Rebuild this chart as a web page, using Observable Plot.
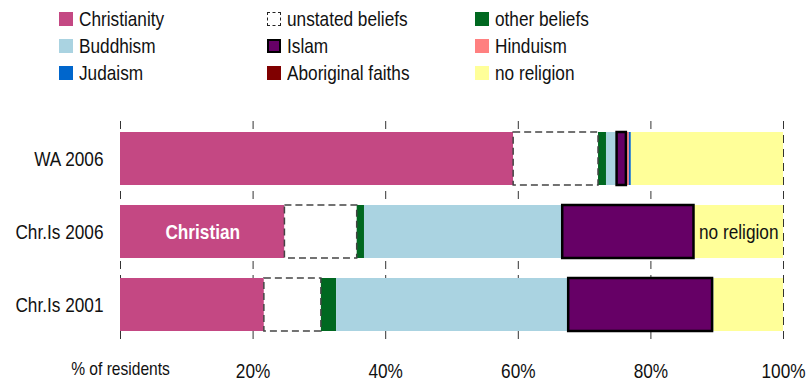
<!DOCTYPE html>
<html>
<head>
<meta charset="utf-8">
<script src="https://cdn.jsdelivr.net/npm/d3@7"></script>
<script src="https://cdn.jsdelivr.net/npm/@observablehq/plot@0.6"></script>
<style>
  html, body { margin: 0; padding: 0; background: #fff; }
  body { width: 812px; height: 383px; overflow: hidden; font-family: "Liberation Sans", Arial, sans-serif; }
  #legend { position: relative; height: 95px; }
  .item { position: absolute; height: 24px; display: flex; align-items: center; font-size: 21px; color: #111; white-space: nowrap; }
  .sw { width: 14px; height: 14px; margin-right: 6px; box-sizing: border-box; flex: none; }
  .lt { display: inline-block; transform: scaleX(0.82); transform-origin: 0 50%; }
  svg { display: block; }
</style>
</head>
<body>
<div id="legend"></div>
<div id="chart"></div>
<script>
const regions = ["WA 2006", "Chr.Is 2006", "Chr.Is 2001"];
const religions = ["Christianity", "unstated beliefs", "other beliefs", "Buddhism", "Islam", "Hinduism", "Judaism", "Aboriginal faiths", "no religion"];
const colors = ["#C44883", "#FFFFFF", "#006820", "#AAD3E1", "#660066", "#FF8080", "#0066CC", "#800000", "#FFFF99"];
const wa2006 = [59.3, 12.8, 1.2, 1.6, 1.4, 0.45, 0.3, 0.0, 22.95];
const chr2006 = [24.8, 10.9, 1.1, 29.9, 19.8, 0.0, 0.0, 0.0, 13.5];
const chr2001 = [21.7, 8.6, 2.3, 35.0, 21.7, 0.0, 0.2, 0.0, 10.5];
const xTicks = [0, 20, 40, 60, 80, 100];

// legend layout: column-major order as in the reference
const legendOrder = [
  ["Christianity", "Buddhism", "Judaism"],
  ["unstated beliefs", "Islam", "Aboriginal faiths"],
  ["other beliefs", "Hinduism", "no religion"]
];
const legendX = [59, 267, 475];
const legendY = [19, 46, 73];

const legend = document.getElementById("legend");
legendOrder.forEach((col, ci) => {
  col.forEach((name, ri) => {
    const it = document.createElement("div");
    it.className = "item";
    it.style.left = legendX[ci] + "px";
    it.style.top = (legendY[ri] - 12) + "px";
    const sw = document.createElement("span");
    sw.className = "sw";
    const c = colors[religions.indexOf(name)];
    sw.style.background = c;
    if (name === "unstated beliefs") sw.style.border = "1.5px dashed #222";
    if (name === "Islam") sw.style.border = "2.5px solid #000";
    it.appendChild(sw);
    const t = document.createElement("span");
    t.className = "lt";
    t.textContent = name;
    it.appendChild(t);
    legend.appendChild(it);
  });
});

const series = {"WA 2006": wa2006, "Chr.Is 2006": chr2006, "Chr.Is 2001": chr2001};
const data = [];
for (const r of regions) {
  religions.forEach((rel, i) => data.push({region: r, religion: rel, value: series[r][i]}));
}
const colorOf = d => colors[religions.indexOf(d.religion)];

const stack = extra => Plot.stackX({x: "value", y: "region", order: null, ...extra});

const chart = Plot.plot({
  width: 812,
  height: 288,
  marginLeft: 120,
  marginRight: 29,
  marginTop: 26,
  marginBottom: 42,
  style: {fontFamily: "'Liberation Sans', Arial, sans-serif", background: "#fff", color: "#111"},
  x: {domain: [0, 100], axis: null},
  y: {domain: regions, paddingInner: 0.28, paddingOuter: 0.136, axis: null},
  opacity: {type: "identity"},
  marks: [
    Plot.ruleX(xTicks, {stroke: "#333", strokeWidth: 1, strokeDasharray: "8,6"}),
    Plot.barX(data, stack({fill: colorOf})),
    Plot.barX(data, stack({fill: "none", stroke: "#444", strokeWidth: 1.5, strokeDasharray: "7,4",
      strokeOpacity: d => d.religion === "unstated beliefs" ? 1 : 0})),
    Plot.barX(data, stack({fill: "none", stroke: "#000", strokeWidth: 2.5,
      strokeOpacity: d => d.religion === "Islam" ? 1 : 0})),
    Plot.text(data, stack({
      text: d => (d.region === "Chr.Is 2006" && d.religion === "Christianity") ? "Christian" : null,
      fill: "#fff", fontWeight: "bold", fontSize: 21})),
    Plot.text(data, stack({
      text: d => (d.region === "Chr.Is 2006" && d.religion === "no religion") ? "no religion" : null,
      fill: "#111", fontSize: 21})),
    Plot.axisY({tickSize: 0, tickPadding: 17, fontSize: 21, label: null}),
    Plot.axisX({ticks: xTicks.filter(t => t > 0), tickSize: 0, tickPadding: 22, fontSize: 21,
      tickFormat: d => d + "%", label: null}),
    Plot.text(["% of residents"], {x: 0, frameAnchor: "bottom", lineAnchor: "middle", dy: 27, fontSize: 19, fill: "#111"})
  ]
});
document.getElementById("chart").appendChild(chart);

// condense the glyphs horizontally to mimic the narrow typeface of the reference
chart.querySelectorAll("text").forEach(el => {
  const targets = el.querySelectorAll("tspan").length ? el.querySelectorAll("tspan") : [el];
  targets.forEach(t => {
    const L = t.getComputedTextLength();
    if (L > 0) {
      t.setAttribute("textLength", (L * 0.82).toFixed(2));
      t.setAttribute("lengthAdjust", "spacingAndGlyphs");
    }
  });
});
</script>
</body>
</html>
